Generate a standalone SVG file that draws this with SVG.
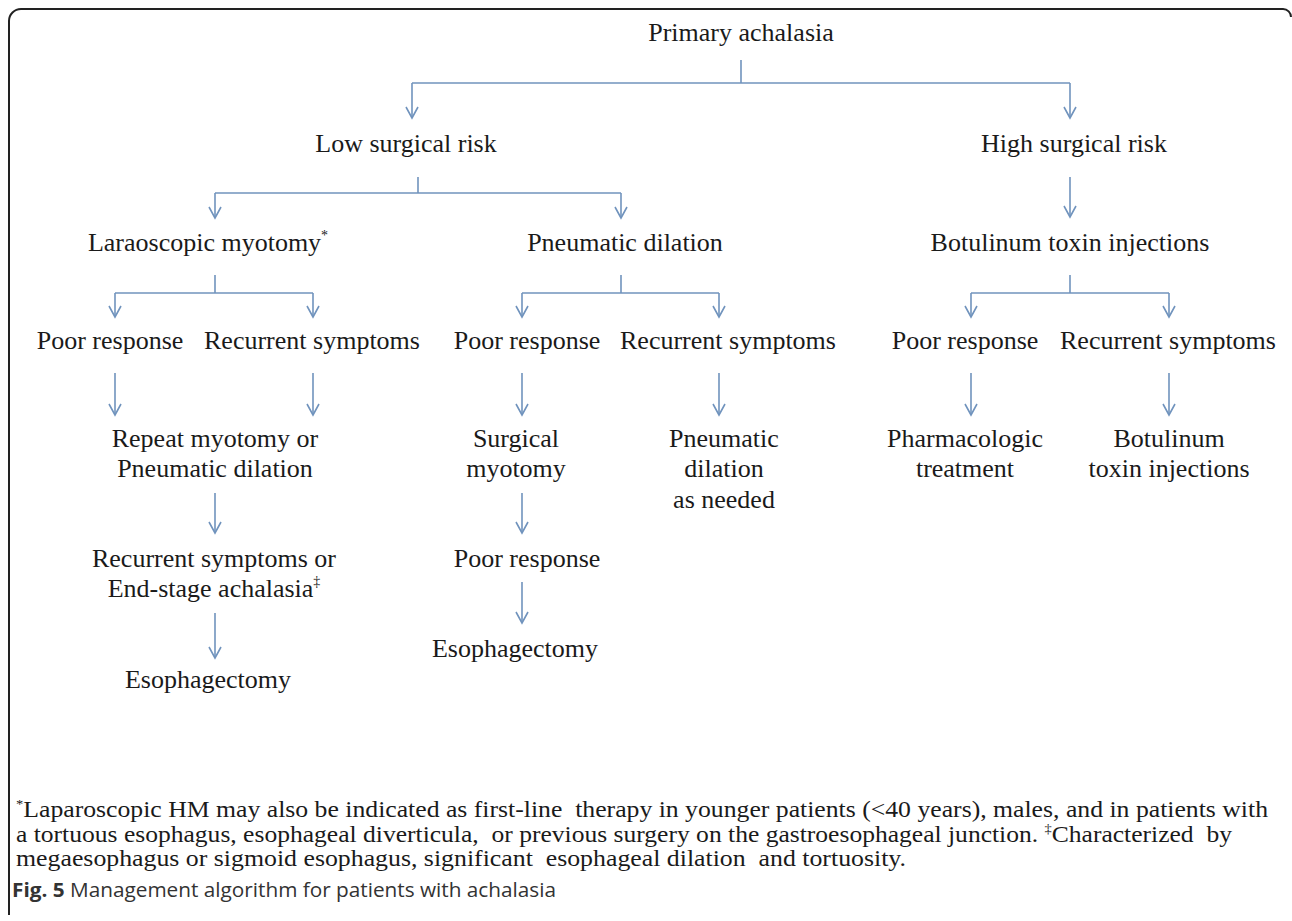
<svg xmlns="http://www.w3.org/2000/svg" width="1292" height="921" viewBox="0 0 1292 921">
<style>
.lbl{font-family:"Liberation Serif","Times New Roman",serif;font-size:26px;fill:#1a1a1a;text-anchor:middle}
.sup{font-size:14px}
.fn{font-family:"Liberation Serif","Times New Roman",serif;font-size:23px;fill:#1a1a1a;white-space:pre}
.cap{font-family:"Open Sans","Noto Sans",sans-serif;font-size:20px;fill:#333}
.c{stroke:#7093bd;stroke-width:1.6;fill:none}
.a{stroke:#7093bd;stroke-width:1.6;fill:none;marker-end:url(#ah)}
</style>
<defs>
<marker id="ah" markerUnits="userSpaceOnUse" orient="auto" refX="0" refY="0" markerWidth="1" markerHeight="1" style="overflow:visible">
<path d="M-11,-6 L0,0 L-11,6" fill="none" stroke="#7093bd" stroke-width="1.6"/>
</marker>
</defs>
<rect x="0" y="0" width="1292" height="921" fill="#fff"/>
<path d="M9,915 V21 A12,12 0 0 1 21,9 H1283 A8,8 0 0 1 1291,17" fill="none" stroke="#222" stroke-width="2"/>

<g id="connectors">
<line class="c" x1="741" y1="60" x2="741" y2="83"/>
<line class="c" x1="412" y1="83" x2="1070" y2="83"/>
<line class="a" x1="412" y1="83" x2="412" y2="118"/>
<line class="a" x1="1070" y1="83" x2="1070" y2="118"/>

<line class="c" x1="418" y1="177" x2="418" y2="193"/>
<line class="c" x1="215" y1="193" x2="621" y2="193"/>
<line class="a" x1="215" y1="193" x2="215" y2="218"/>
<line class="a" x1="621" y1="193" x2="621" y2="218"/>
<line class="a" x1="1070" y1="177" x2="1070" y2="217"/>

<line class="c" x1="215" y1="275" x2="215" y2="293"/>
<line class="c" x1="115" y1="293" x2="313" y2="293"/>
<line class="a" x1="115" y1="293" x2="115" y2="317"/>
<line class="a" x1="313" y1="293" x2="313" y2="317"/>

<line class="c" x1="621" y1="275" x2="621" y2="293"/>
<line class="c" x1="522" y1="293" x2="719" y2="293"/>
<line class="a" x1="522" y1="293" x2="522" y2="317"/>
<line class="a" x1="719" y1="293" x2="719" y2="317"/>

<line class="c" x1="1070" y1="275" x2="1070" y2="293"/>
<line class="c" x1="971" y1="293" x2="1169" y2="293"/>
<line class="a" x1="971" y1="293" x2="971" y2="317"/>
<line class="a" x1="1169" y1="293" x2="1169" y2="317"/>

<line class="a" x1="115" y1="373" x2="115" y2="415"/>
<line class="a" x1="313" y1="373" x2="313" y2="415"/>
<line class="a" x1="522" y1="373" x2="522" y2="415"/>
<line class="a" x1="719" y1="373" x2="719" y2="415"/>
<line class="a" x1="971" y1="373" x2="971" y2="415"/>
<line class="a" x1="1169" y1="373" x2="1169" y2="415"/>

<line class="a" x1="215" y1="493" x2="215" y2="533"/>
<line class="a" x1="522" y1="493" x2="522" y2="533"/>

<line class="a" x1="215" y1="613" x2="215" y2="658"/>
<line class="a" x1="522" y1="582" x2="522" y2="623"/>
</g>

<g id="n-primary"><text class="lbl" x="741" y="41">Primary achalasia</text></g>
<g id="n-low"><text class="lbl" x="406" y="152">Low surgical risk</text></g>
<g id="n-high"><text class="lbl" x="1074" y="152">High surgical risk</text></g>
<g id="n-lap"><text class="lbl" x="208" y="251">Laraoscopic myotomy<tspan class="sup" dy="-11">*</tspan></text></g>
<g id="n-pd"><text class="lbl" x="625" y="251">Pneumatic dilation</text></g>
<g id="n-bot"><text class="lbl" x="1070" y="251">Botulinum toxin injections</text></g>

<g id="n-lap-poor"><text class="lbl" x="110" y="349">Poor response</text></g>
<g id="n-lap-rec"><text class="lbl" x="312" y="349">Recurrent symptoms</text></g>
<g id="n-pd-poor"><text class="lbl" x="527" y="349">Poor response</text></g>
<g id="n-pd-rec"><text class="lbl" x="728" y="349">Recurrent symptoms</text></g>
<g id="n-bot-poor"><text class="lbl" x="965" y="349">Poor response</text></g>
<g id="n-bot-rec"><text class="lbl" x="1168" y="349">Recurrent symptoms</text></g>

<g id="n-repeat"><text class="lbl" x="215" y="447">Repeat myotomy or</text><text class="lbl" x="215" y="477">Pneumatic dilation</text></g>
<g id="n-surg"><text class="lbl" x="516" y="447">Surgical</text><text class="lbl" x="516" y="477">myotomy</text></g>
<g id="n-pdneed"><text class="lbl" x="724" y="447">Pneumatic</text><text class="lbl" x="724" y="477">dilation</text><text class="lbl" x="724" y="508">as needed</text></g>
<g id="n-pharm"><text class="lbl" x="965" y="447">Pharmacologic</text><text class="lbl" x="965" y="477">treatment</text></g>
<g id="n-bot2"><text class="lbl" x="1169" y="447">Botulinum</text><text class="lbl" x="1169" y="477">toxin injections</text></g>

<g id="n-endstage"><text class="lbl" x="214" y="567">Recurrent symptoms or</text><text class="lbl" x="214" y="597">End-stage achalasia<tspan class="sup" dy="-11">‡</tspan></text></g>
<g id="n-pd-poor2"><text class="lbl" x="527" y="567">Poor response</text></g>
<g id="n-eso1"><text class="lbl" x="208" y="688">Esophagectomy</text></g>
<g id="n-eso2"><text class="lbl" x="515" y="657">Esophagectomy</text></g>

<g id="footnote">
<text class="fn" x="16" y="817" textLength="1252" lengthAdjust="spacingAndGlyphs"><tspan font-size="13" dy="-9">*</tspan><tspan dy="9">Laparoscopic HM may also be indicated as first-line  therapy in younger patients (&lt;40 years), males, and in patients with</tspan></text>
<text class="fn" x="16" y="842" textLength="1216" lengthAdjust="spacingAndGlyphs">a tortuous esophagus, esophageal diverticula,  or previous surgery on the gastroesophageal junction. <tspan font-size="13" dy="-9">‡</tspan><tspan dy="9">Characterized  by</tspan></text>
<text class="fn" x="16" y="866" textLength="890" lengthAdjust="spacingAndGlyphs">megaesophagus or sigmoid esophagus, significant  esophageal dilation  and tortuosity.</text>
</g>

<g id="caption">
<text class="cap" x="12" y="897" textLength="544" lengthAdjust="spacingAndGlyphs"><tspan font-weight="bold">Fig. 5</tspan> Management algorithm for patients with achalasia</text>
</g>
</svg>
